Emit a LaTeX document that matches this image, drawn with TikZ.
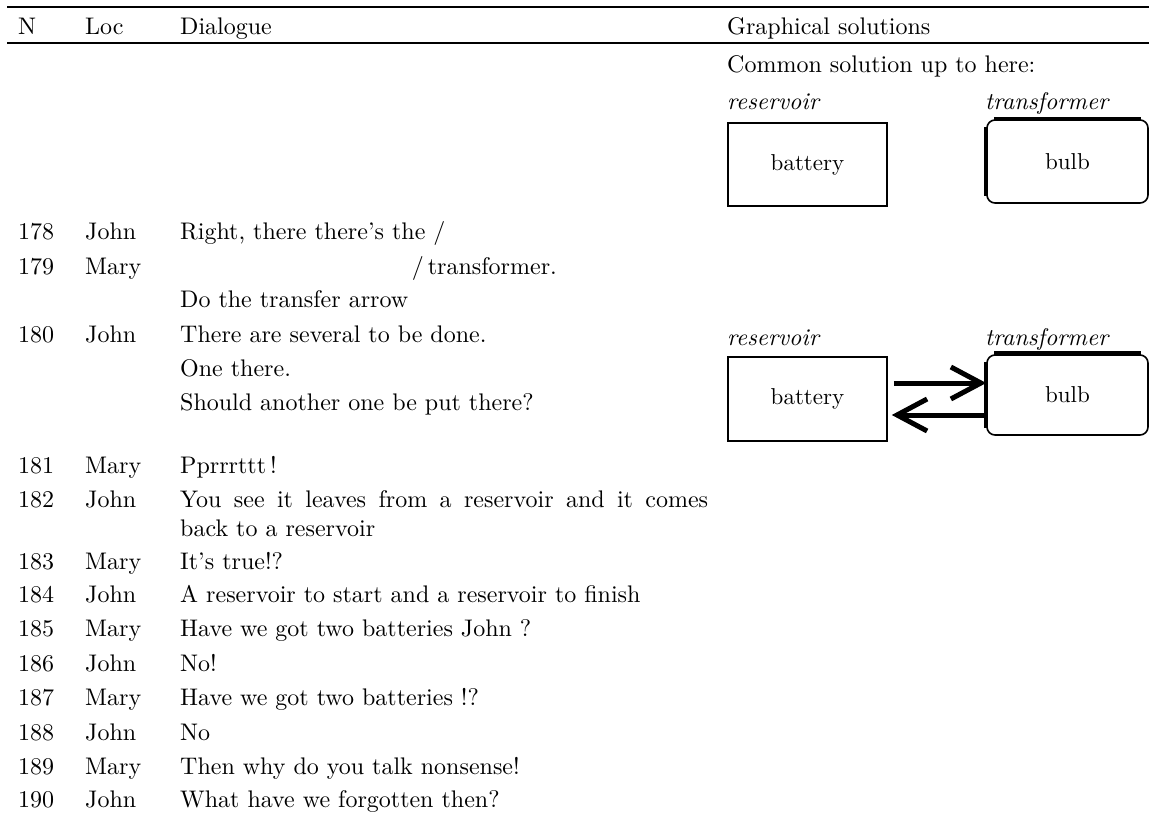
\documentclass[tikz,border=0pt]{standalone}
\usepackage{fontspec}
\setmainfont{lmroman10}[Extension=.otf, UprightFont=*-regular, ItalicFont=*-italic,
  BoldFont=*-bold, BoldItalicFont=*-bolditalic]
\usepackage{tikz}
\usetikzlibrary{arrows.meta,calc}

\begin{document}
\begin{tikzpicture}[x=1pt,y=-1pt,%
% common options for the table text:
cell/.style = {anchor=base west, inner sep=0, font=\fontsize{24}{29}\selectfont},
% common options for the boxes:
box/.style = {draw, line width=1.6, minimum width=159, minimum height=83,
            inner sep=0, font=\fontsize{23}{28}\selectfont},
tag/.style = {anchor=base west, inner sep=0, font=\itshape\fontsize{24}{29}\selectfont},
flow/.style = {line width=5, -{Straight Barb[length=30pt,width=32pt]}}]
\useasboundingbox (0,0) rectangle (1149,813);
% rules of the table
\draw[line width=2] (7,7.5) -- (1149,7.5);
\draw[line width=2] (7,43) -- (1149,43);
\node[cell] (hN) at (18,35) {N};
\node[cell] (hL) at (85,35) {Loc};
\node[cell] (hD) at (180,35) {Dialogue};
\node[cell] (hG) at (727,35) {Graphical solutions};
\node[cell] (com) at (727,73) {Common solution up to here:};
% first solution
\node[tag] (res1) at (727,110) {reservoir};
\node[tag] (tra1) at (985,110) {transformer};
\node[box] (bat1) at (807.5,164.5) {battery};
\node[box, rounded corners=8, minimum width=161] (bulb1) at (1067.5,161.5) {bulb\hspace{28pt}};
\draw[line width=3.5] ($(bulb1.north west)+(8,0)$) -- ($(bulb1.north east)+(-8,0)$);
\draw[line width=3.5] ($(bulb1.north west)+(0,8)$) -- ($(bulb1.south west)+(0,-8)$);
% dialogue
\node[cell] (n178) at (18,240) {178};
\node[cell] (l178) at (85,240) {John};
\node[cell] (d178) at (180,240) {Right, there there's the /};
\node[cell] (n179) at (18,274) {179};
\node[cell] (l179) at (85,274) {Mary};
\node[cell] (d179) at ($(d178.base east)+(-34,34)$) {/\,transformer.};
\node[cell] (d179b) at (180,308) {Do the transfer arrow};
\node[cell] (n180) at (18,342) {180};
\node[cell] (l180) at (85,342) {John};
\node[cell] (d180) at (180,342) {There are several to be done.};
\node[cell] (d180b) at (180,376) {One there.};
\node[cell] (d180c) at (180,410) {Should another one be put there?};
% second solution
\node[tag] (res2) at (727,345) {reservoir};
\node[tag] (tra2) at (985,345) {transformer};
\node[box, minimum height=84] (bat2) at (807.5,399) {battery};
\node[box, rounded corners=8, minimum width=161, minimum height=80] (bulb2) at (1067.5,395) {bulb\hspace{28pt}};
\draw[line width=4] ($(bulb2.north west)+(8,-1)$) -- ($(bulb2.north east)+(-8,-1)$);
\draw[line width=3.5] ($(bulb2.north west)+(0,8)$) -- ($(bulb2.south west)+(0,-8)$);
\draw[flow] ($(bat2.east)+(6,-16)$) -- ($(bat2.east -| bulb2.west)+(0,-16)$);
\draw[flow] ($(bat2.east -| bulb2.west)+(0,16)$) -- ($(bat2.east)+(4,16)$);
% rest of the dialogue
\node[cell] (n181) at (18,473) {181};
\node[cell] (l181) at (85,473) {Mary};
\node[cell] (d181) at (180,473) {Pprrrttt\,!};
\node[cell] (n182) at (18,507) {182};
\node[cell] (l182) at (85,507) {John};
\node[cell, text width=528, align=justify] (d182) at (180,507)
  {You see it leaves from a reservoir and it comes\linebreak back to a reservoir};
\node[cell] (n183) at (18,569) {183};
\node[cell] (l183) at (85,569) {Mary};
\node[cell] (d183) at (180,569) {It's true!?};
\node[cell] (n184) at (18,602) {184};
\node[cell] (l184) at (85,602) {John};
\node[cell] (d184) at (180,602) {A reservoir to start and a reservoir to finish};
\node[cell] (n185) at (18,636) {185};
\node[cell] (l185) at (85,636) {Mary};
\node[cell] (d185) at (180,636) {Have we got two batteries John ?};
\node[cell] (n186) at (18,671) {186};
\node[cell] (l186) at (85,671) {John};
\node[cell] (d186) at (180,671) {No!};
\node[cell] (n187) at (18,705) {187};
\node[cell] (l187) at (85,705) {Mary};
\node[cell] (d187) at (180,705) {Have we got two batteries !?};
\node[cell] (n188) at (18,740) {188};
\node[cell] (l188) at (85,740) {John};
\node[cell] (d188) at (180,740) {No};
\node[cell] (n189) at (18,774) {189};
\node[cell] (l189) at (85,774) {Mary};
\node[cell] (d189) at (180,774) {Then why do you talk nonsense!};
\node[cell] (n190) at (18,807) {190};
\node[cell] (l190) at (85,807) {John};
\node[cell] (d190) at (180,807) {What have we forgotten then?};
\end{tikzpicture}
\end{document}
